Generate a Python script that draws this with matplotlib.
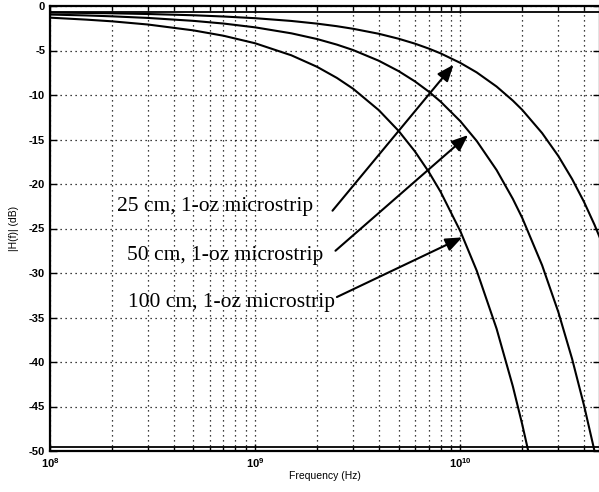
import numpy as np
import matplotlib
matplotlib.use("Agg")
import matplotlib.pyplot as plt

# frequencies (GHz) and |H(f)| (dB)
freq_25 = [0.1, 0.15, 0.2, 0.3, 0.5, 0.7, 1, 1.5, 2, 2.5, 3, 4, 5, 6, 7, 8, 10, 12, 15, 18, 20, 25, 30, 35, 40, 45, 50]
h_25 = [-0.74, -0.78, -0.82, -0.90, -1.04, -1.18, -1.37, -1.68, -1.98, -2.27, -2.56, -3.12, -3.68, -4.23,
        -4.78, -5.32, -6.40, -7.46, -9.05, -10.63, -11.67, -14.28, -16.86, -19.44, -22.01, -24.58, -27.13]

freq_50 = [0.1, 0.15, 0.2, 0.3, 0.5, 0.7, 1, 1.5, 2, 2.5, 3, 4, 5, 6, 7, 8, 10, 12, 15, 18, 20, 25, 30, 35, 40, 45]
h_50 = [-0.96, -1.06, -1.16, -1.34, -1.67, -1.97, -2.40, -3.07, -3.71, -4.34, -4.95, -6.15, -7.32, -8.47,
        -9.61, -10.74, -12.96, -15.16, -18.43, -21.67, -23.81, -29.13, -34.40, -39.65, -44.87, -50.0]

freq_100 = [0.1, 0.15, 0.2, 0.3, 0.5, 0.7, 1, 1.5, 2, 2.5, 3, 4, 5, 6, 7, 8, 10, 12, 15, 18, 20, 21.4]
h_100 = [-1.31, -1.53, -1.72, -2.08, -2.74, -3.34, -4.19, -5.54, -6.83, -8.08, -9.30, -11.70, -14.04, -16.34,
         -18.62, -20.87, -25.33, -29.73, -36.26, -42.73, -47.01, -50.0]

labels = ["25 cm, 1-oz microstrip", "50 cm, 1-oz microstrip", "100 cm, 1-oz microstrip"]
# text anchor (right end), arrow tail and arrow head, in GHz / dB
label_pos = [(1.92, -22.5), (2.15, -28.0), (2.46, -33.3)]
arrow_tail = [(2.38, -23.0), (2.46, -27.5), (2.5, -32.7)]
arrow_head = [(9.25, -6.6), (10.9, -14.5), (10.2, -26.0)]

yticks = np.arange(-50, 1, 5)

fig = plt.figure(figsize=(5.99, 4.92), dpi=100)
ax = fig.add_axes([50 / 599, 1 - 451 / 492, 550 / 599, 445 / 492])

for f, h in [(freq_25, h_25), (freq_50, h_50), (freq_100, h_100)]:
    ax.plot(np.array(f) * 1e9, h, color="black", lw=1.5)

# double frame lines from the scanned original
ax.axhline(-0.65, color="black", lw=1.3)
ax.axhline(-49.55, color="black", lw=1.3)

ax.set_xscale("log")
ax.set_xlim(1e8, 10 ** 10.68)
ax.set_ylim(-50, 0)
ax.set_yticks(yticks)
ax.set_yticklabels([str(v) for v in yticks])

ax.grid(True, which="major", linestyle=(0, (1, 3)), color="black", lw=0.9)
ax.grid(True, which="minor", axis="x", linestyle=(0, (1, 3)), color="black", lw=0.9)

ax.tick_params(which="both", direction="in", top=True, right=True, labelsize=8, width=1.0)
ax.tick_params(which="major", length=5)
ax.tick_params(which="minor", length=3)
for lab in ax.get_xticklabels() + ax.get_yticklabels():
    lab.set_family("Liberation Sans")
    lab.set_fontweight("bold")
for s in ax.spines.values():
    s.set_linewidth(1.6)

ax.set_xlabel("Frequency (Hz)", fontsize=7.5, family="Liberation Sans", labelpad=1)
ax.set_ylabel("|H(f)| (dB)", fontsize=7.5, family="Liberation Sans", labelpad=7)

for txt, (tx, ty), (x0, y0), (hx, hy) in zip(labels, label_pos, arrow_tail, arrow_head):
    ax.text(tx * 1e9, ty, txt, ha="right", va="center", fontsize=15.5, family="Liberation Serif")
    ax.annotate("", xy=(hx * 1e9, hy), xytext=(x0 * 1e9, y0),
                arrowprops=dict(arrowstyle="-|>,head_length=1.0,head_width=0.4",
                                color="black", lw=1.5, shrinkA=0, shrinkB=0))

plt.savefig("out.png", dpi=100)
